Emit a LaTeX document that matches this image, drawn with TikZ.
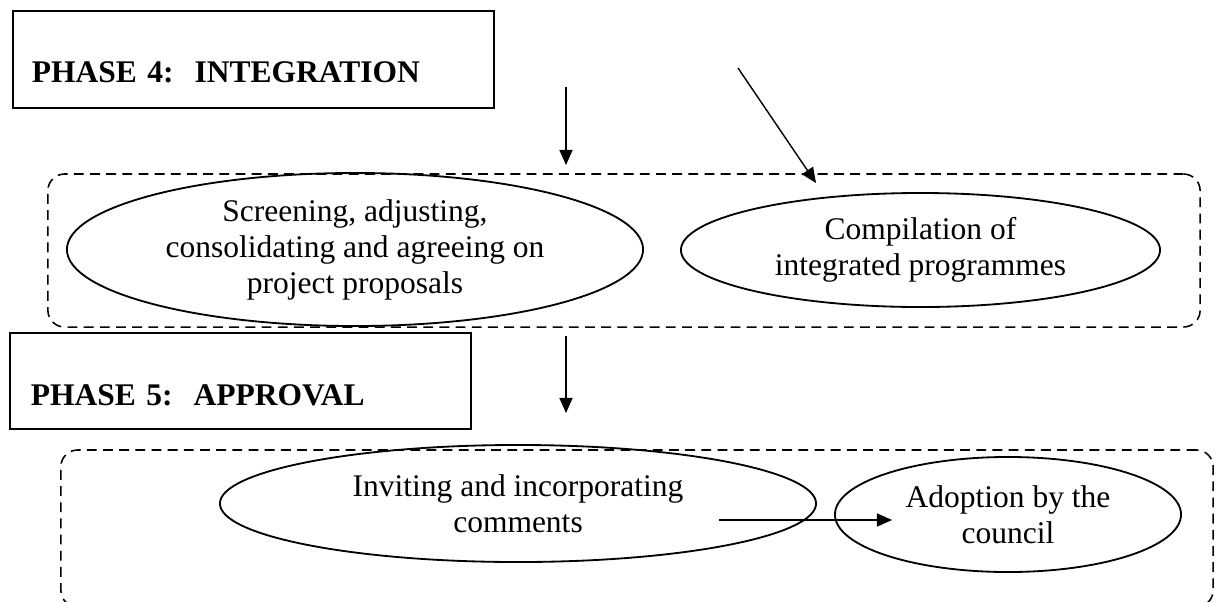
\documentclass[tikz,border=0pt]{standalone}
\usepackage{fontspec}
\setmainfont{Liberation Serif}
\usepackage{tikz}
\usetikzlibrary{calc,arrows.meta,shapes.geometric}
\tikzset{
  phasebox/.style={draw, line width=1.3pt, anchor=north west, inner ysep=0pt, align=left,
    font=\fontsize{22.4}{26}\selectfont\bfseries},
  stage/.style={draw, ellipse, line width=1.3pt, inner sep=0pt, align=center,
    font=\fontsize{22.4}{25.6}\selectfont},
  frame/.style={draw, dash pattern=on 7pt off 4.5pt, line width=1.1pt, rounded corners=0.42cm, inner sep=0pt},
  flow/.style={line width=1pt, -{Triangle[length=0.38cm,width=0.33cm]}},
}
\begin{document}
\begin{tikzpicture}[x=0.025cm, y=-0.025cm]
\useasboundingbox (0,0) rectangle (1218,601);

% phase 4
\node[phasebox, text width=11.075cm, inner xsep=0.475cm, text height=1.8cm, text depth=0.625cm]
  (phasefour) at (12,10) {PHASE 4:\ \ INTEGRATION};
\node[frame, minimum width=28.8cm, minimum height=3.825cm] (intframe) at (624,250.5) {};
\node[stage, minimum width=14.4cm, minimum height=3.825cm] (screen) at (355,249.5)
  {Screening, adjusting,\\consolidating and agreeing on\\project proposals};
\node[stage, minimum width=11.975cm, minimum height=2.85cm] (compile) at (920.5,250)
  {Compilation of\\integrated programmes};

% phase 5
\node[phasebox, text width=10.475cm, inner xsep=0.525cm, text height=1.825cm, text depth=0.575cm]
  (phasefive) at (9,332) {PHASE 5:\ \ APPROVAL};
\node[frame, minimum width=28.8cm, minimum height=3.925cm] (appframe) at (637,528.5) {};
\node[stage, minimum width=14.9cm, minimum height=2.925cm] (invite) at (518,503.5)
  {Inviting and incorporating\\comments};
\node[stage, minimum width=8.65cm, minimum height=2.875cm] (adopt) at (1008,514.5)
  {Adoption by the\\council};

% arrow ends
\coordinate (inA) at (566,87);
\coordinate (outA) at (566,165);
\coordinate (inB) at (738,68);
\coordinate (outB) at (816,183);
\coordinate (inC) at (566,336);
\coordinate (outC) at (566,413);
\coordinate (inD) at (719,520);
\coordinate (outD) at (892,520);

\draw[flow] (inA) -- (outA);
\draw[flow] (inB) -- (outB);
\draw[flow] (inC) -- (outC);
\draw[flow] (inD) -- (outD);
\end{tikzpicture}
\end{document}
